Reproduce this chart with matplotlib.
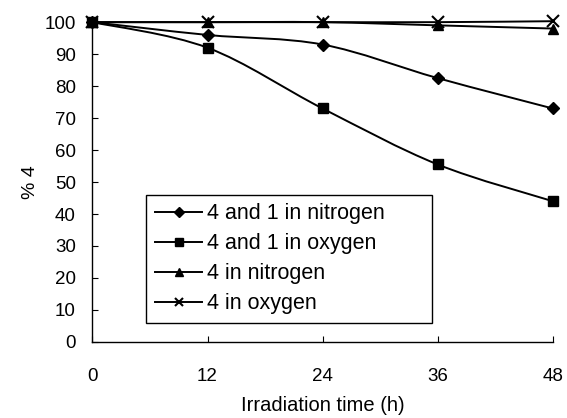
import matplotlib
matplotlib.use("Agg")
import matplotlib.pyplot as plt
import numpy as np
from matplotlib.path import Path
from matplotlib.patches import PathPatch
from matplotlib.lines import Line2D

plt.rcParams["font.family"] = ["Liberation Sans", "DejaVu Sans"]

# data
hours = [0, 12, 24, 36, 48]
n2_with_1 = [100, 96, 93, 82.5, 73]
o2_with_1 = [100, 92, 73, 55.5, 44]
n2_alone = [100, 100, 100, 99, 98]
o2_alone = [100, 100, 100, 100, 100.3]

labels = ["4 and 1 in nitrogen", "4 and 1 in oxygen", "4 in nitrogen", "4 in oxygen"]
markers = ["D", "s", "^", "x"]
msizes = [6.5, 6.5, 7, 8]


def smooth_path(x, y):
    """Excel-style smoothed line as cubic Bezier segments through the points."""
    pts = np.column_stack([x, y]).astype(float)
    n = len(pts)
    verts = [pts[0]]
    codes = [Path.MOVETO]
    for i in range(n - 1):
        p0 = pts[max(i - 1, 0)]
        p1 = pts[i]
        p2 = pts[i + 1]
        p3 = pts[min(i + 2, n - 1)]
        c1 = p1 + (p2 - p0) / 6.0
        c2 = p2 - (p3 - p1) / 6.0
        verts += [c1, c2, p2]
        codes += [Path.CURVE4] * 3
    return Path(verts, codes)


fig = plt.figure(figsize=(5.67, 4.18), dpi=100)
ax = fig.add_axes([0.163, 0.182, 0.812, 0.765])

handles = []
for ys, lab, m, ms in zip([n2_with_1, o2_with_1, n2_alone, o2_alone], labels, markers, msizes):
    ax.add_patch(PathPatch(smooth_path(hours, ys), fill=False, edgecolor="black",
                           lw=1.4, clip_on=False))
    ax.plot(hours, ys, ls="none", marker=m, ms=ms, color="black",
            mec="black", mew=1.5 if m == "x" else 1.0, clip_on=False, zorder=3)
    handles.append(Line2D([0], [0], color="black", lw=1.4, marker=m, ms=ms * 0.8,
                          mew=1.5 if m == "x" else 1.0, label=lab))

ax.set_xlim(0, 48)
ax.set_ylim(0, 100)
ax.set_xticks(hours)
ax.set_yticks(range(0, 101, 10))
ax.tick_params(direction="in", length=4, width=0.8, labelsize=13.5)
ax.tick_params(axis="y", pad=12)
ax.tick_params(axis="x", pad=19)
for s in ("top", "right"):
    ax.spines[s].set_visible(False)
for s in ("left", "bottom"):
    ax.spines[s].set_linewidth(1.0)

ax.set_xlabel("Irradiation time (h)", fontsize=14.5, labelpad=8)
ax.set_ylabel("% 4", fontsize=14, labelpad=4)

# frame stretched to the reference's wider box
leg = ax.legend(handles=handles, loc="lower left",
                bbox_to_anchor=(0.117, 0.059, 0.62, 0.4), mode="expand",
                fontsize=15.5, frameon=True, fancybox=False, framealpha=1,
                edgecolor="black", handlelength=2.2, handletextpad=0.2,
                labelspacing=0.42, borderpad=0.4, borderaxespad=0)
leg.get_frame().set_linewidth(1.0)

fig.savefig("out.png", dpi=100)
